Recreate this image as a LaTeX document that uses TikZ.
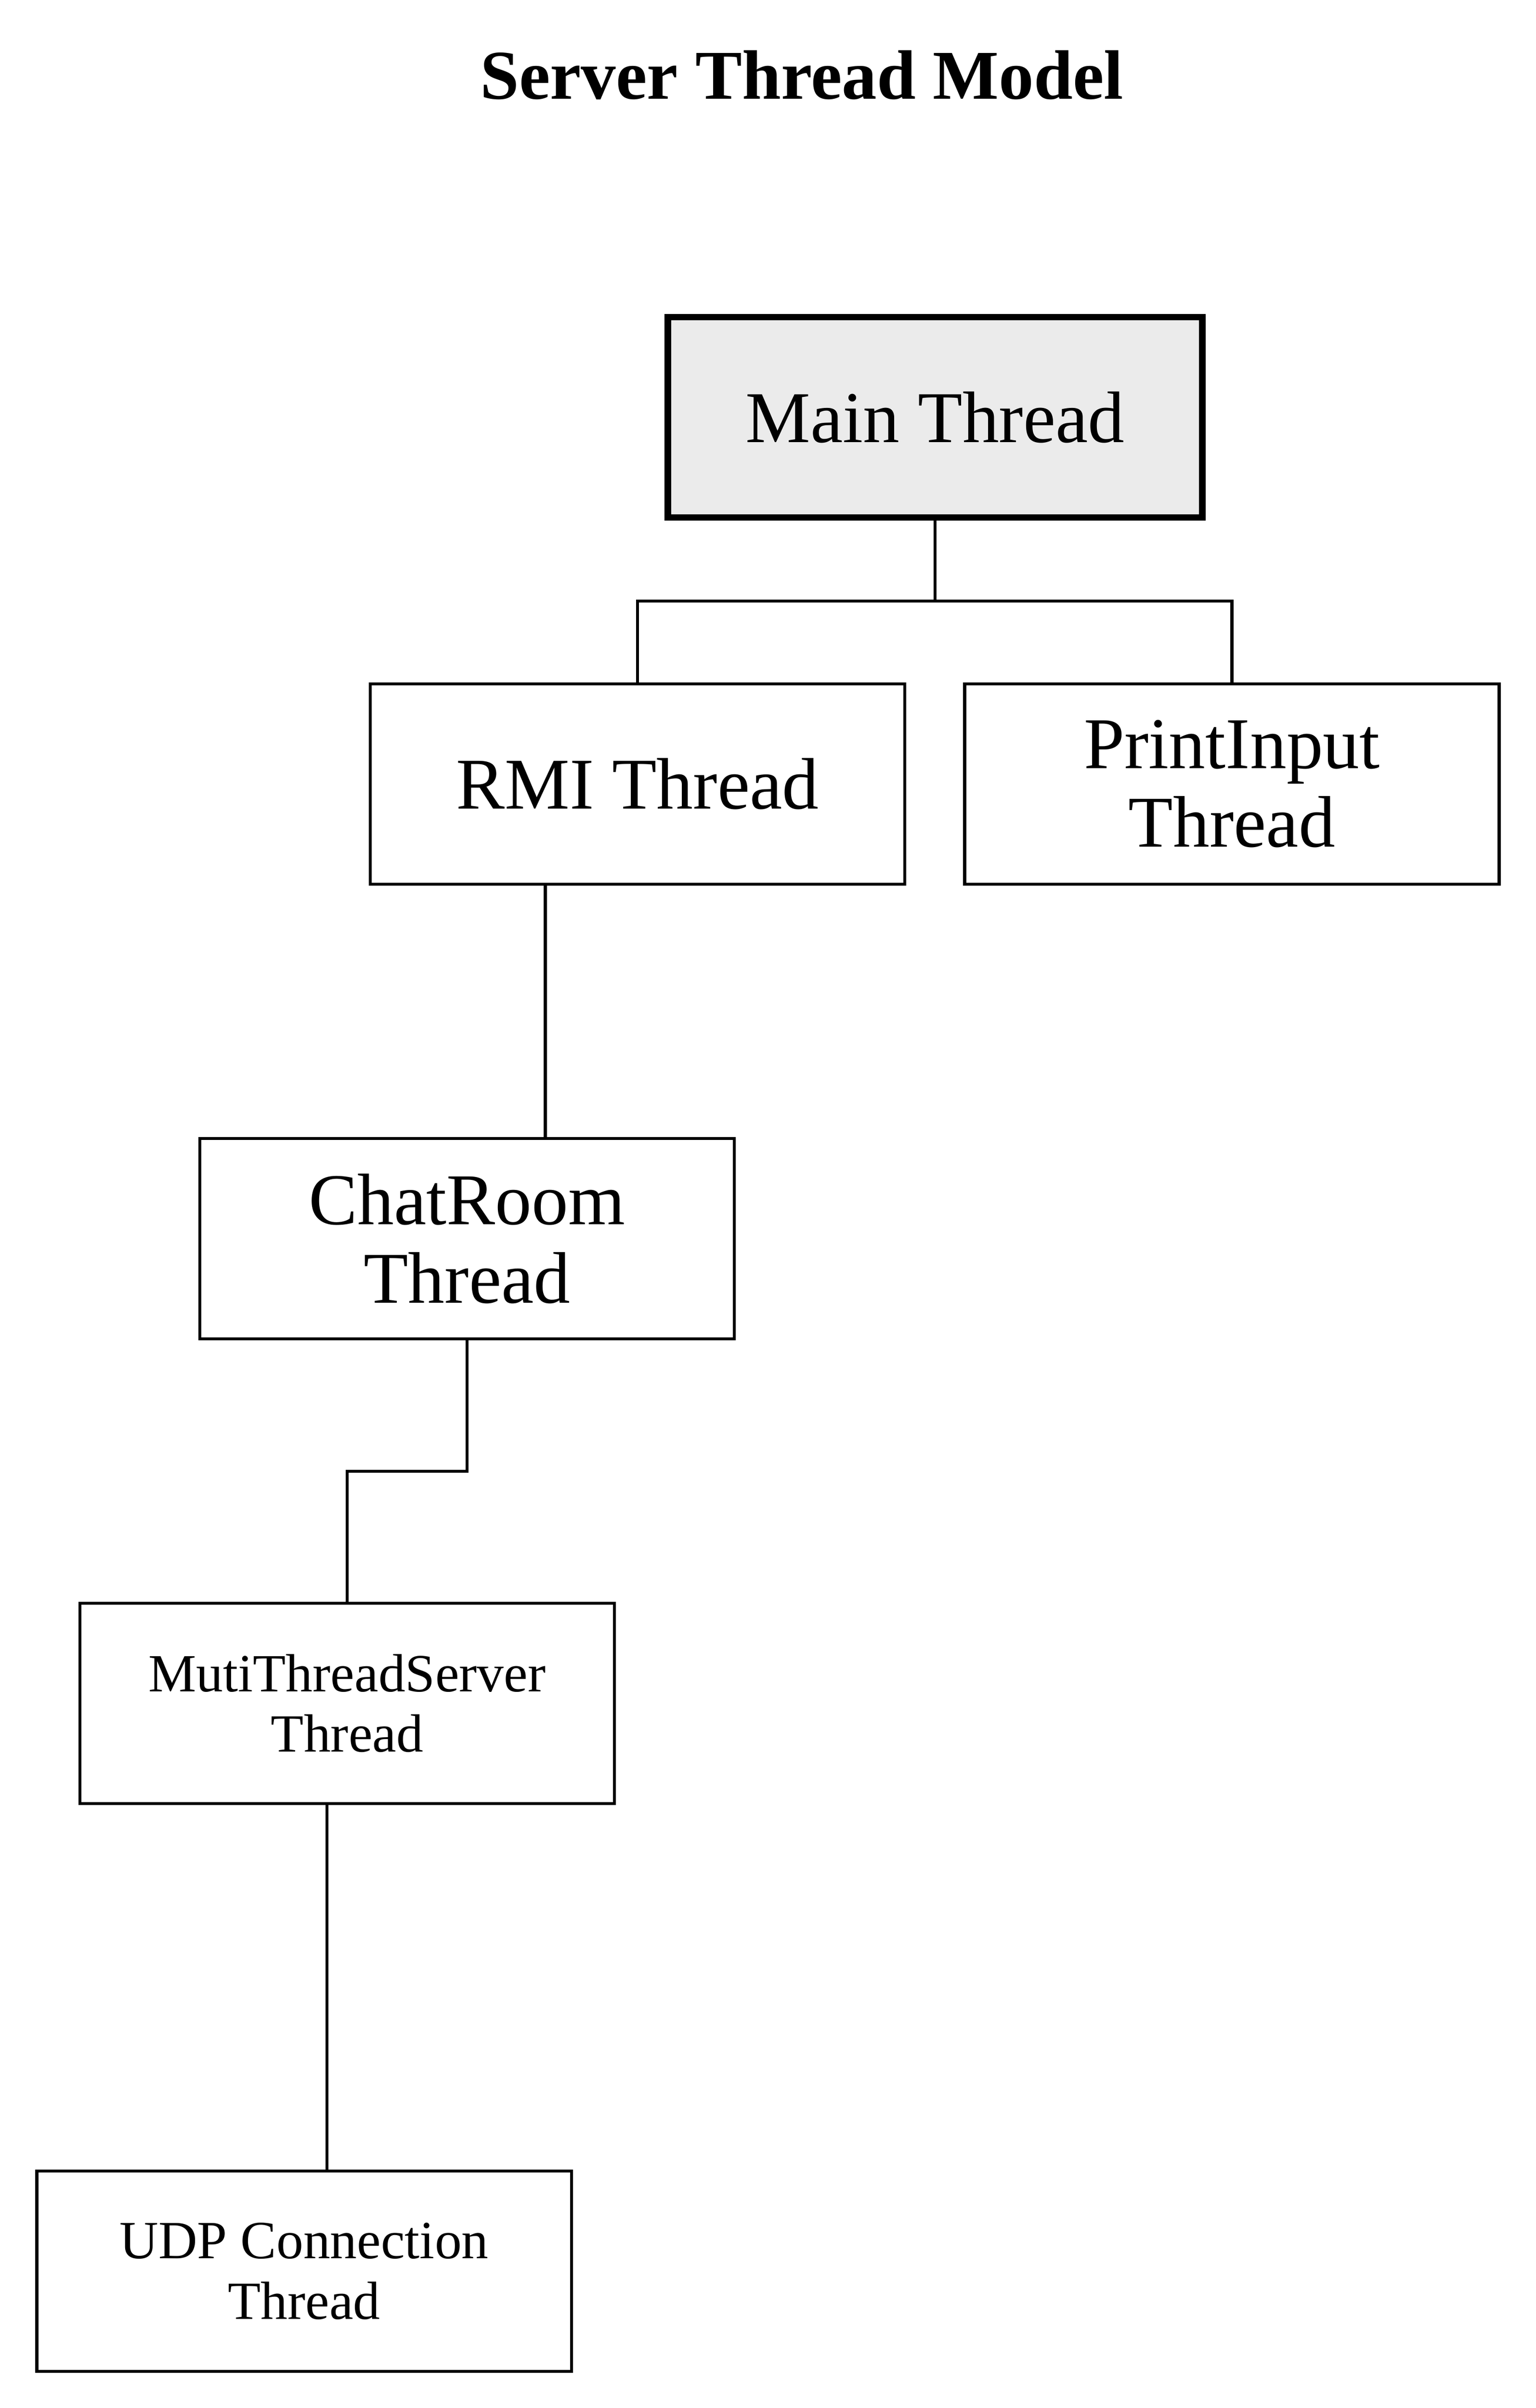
\documentclass[tikz,border=0pt]{standalone}
\usepackage{fontspec}
\setmainfont{Liberation Serif}
\begin{document}
\begin{tikzpicture}[x=0.5pt,y=-0.5pt,
  thbox/.style={draw=black, line width=1pt, fill=white, minimum width=174pt, minimum height=65.2pt, inner sep=0pt, align=center, font=\fontsize{23.75}{25.5}\selectfont},
  smallbox/.style={thbox, font=\fontsize{17.5}{19.7}\selectfont},
  mainbox/.style={thbox, line width=2.15pt, fill=mainfill},
  conn/.style={draw=black, line width=1pt},
  titletext/.style={font=\fontsize{22.75}{25}\selectfont\bfseries, anchor=base, inner sep=0pt}
]
\definecolor{mainfill}{HTML}{EBEBEB}
\useasboundingbox[fill=white] (0,0) rectangle (1000,1567.4);
\node[titletext] (title) at (522,64.3) {Server Thread Model};
\node[mainbox] (main) at (608.8,271.65) {Main Thread};
\node[thbox] (rmi) at (415,510.3) {RMI Thread};
\node[thbox] (pin) at (802,510.3) {PrintInput\\Thread};
\node[thbox] (chat) at (304,806.3) {ChatRoom\\Thread};
\node[smallbox] (muti) at (226,1108.7) {MutiThreadServer\\Thread};
\node[smallbox] (udp) at (198,1478.3) {UDP Connection\\Thread};
\coordinate (j1) at (608.8,391.3);
\coordinate (j2) at (226,957.75);
\coordinate (c1) at (355,0);
\coordinate (c2) at (212.8,0);
\draw[conn] (main.south) -- (j1);
\draw[conn] (rmi.north) |- (j1) -| (pin.north);
\draw[conn] (rmi.south -| c1) -- (chat.north -| c1);
\draw[conn] (chat.south) |- (j2) -- (muti.north);
\draw[conn] (muti.south -| c2) -- (udp.north -| c2);
\end{tikzpicture}
\end{document}
